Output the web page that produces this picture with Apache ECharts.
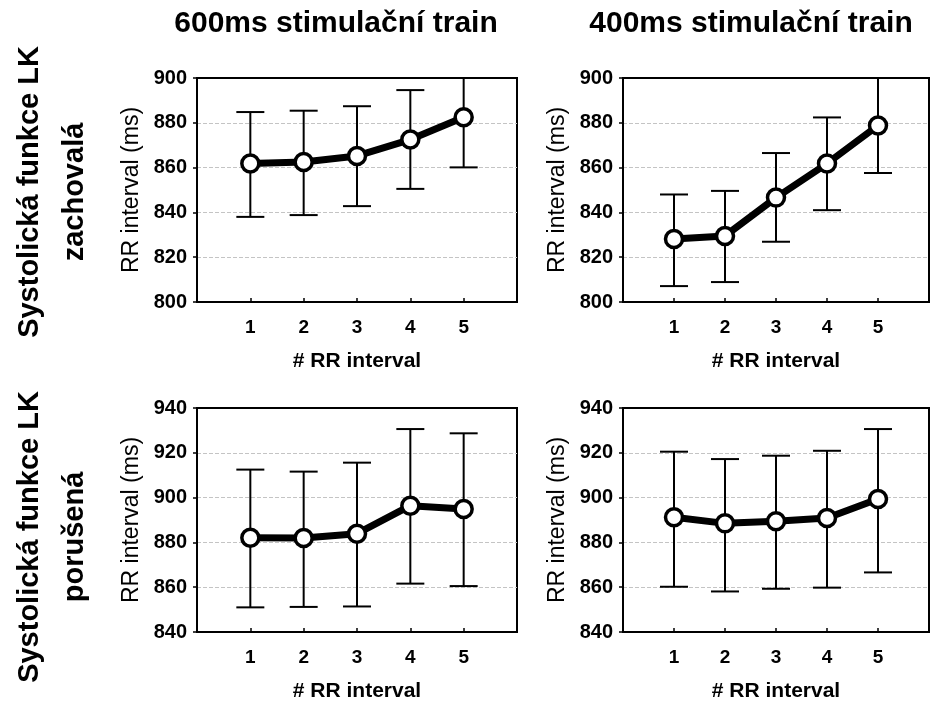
<!DOCTYPE html>
<html>
<head>
<meta charset="utf-8">
<script src="https://cdn.jsdelivr.net/npm/echarts@6/dist/echarts.min.js"></script>
<style>
  html, body { margin: 0; padding: 0; background: #fff; }
  #chart { width: 932px; height: 703px; }
</style>
</head>
<body>
<div id="chart"></div>
<script>
// RR interval number (x axis) and y-axis ticks
const rrIndex = [1, 2, 3, 4, 5];
const yTicksTop = [800, 820, 840, 860, 880, 900];
const yTicksBottom = [840, 860, 880, 900, 920, 940];

const colTitles = ['600ms stimulační train', '400ms stimulační train'];
const rowTitles = [['Systolická funkce LK', 'zachovalá'], ['Systolická funkce LK', 'porušená']];

// Preserved systolic function, 600 ms train
const pres600Mean  = [861.8, 862.5, 865.2, 872.5, 882.5];
const pres600Low   = [838.0, 838.8, 842.8, 850.5, 860.1];
const pres600High  = [884.8, 885.4, 887.4, 894.6, 905.0];
// Preserved systolic function, 400 ms train
const pres400Mean  = [828.1, 829.5, 846.6, 861.8, 878.8];
const pres400Low   = [807.1, 808.9, 826.9, 841.0, 857.6];
const pres400High  = [848.0, 849.6, 866.5, 882.4, 900.8];
// Impaired systolic function, 600 ms train
const imp600Mean   = [882.1, 882.0, 883.9, 896.4, 894.9];
const imp600Low    = [851.0, 851.2, 851.4, 861.6, 860.5];
const imp600High   = [912.5, 911.6, 915.6, 930.6, 928.7];
// Impaired systolic function, 400 ms train
const imp400Mean   = [891.2, 888.5, 889.4, 890.9, 899.4];
const imp400Low    = [860.2, 858.1, 859.3, 859.8, 866.6];
const imp400High   = [920.5, 917.2, 918.7, 920.9, 930.6];

const FONT = "'Liberation Sans', Arial, sans-serif";

const panels = [
  { mean: pres600Mean, low: pres600Low, high: pres600High, ticks: yTicksTop,    grid: { left: 197, top: 78,  width: 320, height: 224 } },
  { mean: pres400Mean, low: pres400Low, high: pres400High, ticks: yTicksTop,    grid: { left: 623, top: 78,  width: 320, height: 224 } },
  { mean: imp600Mean,  low: imp600Low,  high: imp600High,  ticks: yTicksBottom, grid: { left: 197, top: 408, width: 320, height: 224 } },
  { mean: imp400Mean,  low: imp400Low,  high: imp400High,  ticks: yTicksBottom, grid: { left: 623, top: 408, width: 320, height: 224 } }
];

const grids = [], xAxes = [], yAxes = [], series = [];

panels.forEach((p, i) => {
  grids.push(Object.assign({ show: true, borderColor: '#000', borderWidth: 2, backgroundColor: '#fff' }, p.grid));
  xAxes.push({
    gridIndex: i, type: 'value', min: 0, max: 6, interval: 1,
    name: '# RR interval', nameLocation: 'middle', nameGap: 49,
    nameTextStyle: { fontFamily: FONT, fontWeight: 'bold', fontSize: 21, color: '#000' },
    axisLine: { lineStyle: { color: '#000', width: 2 } },
    axisTick: { inside: true, length: 4, lineStyle: { color: '#000', width: 1.5 } },
    axisLabel: {
      margin: 16, fontFamily: FONT, fontWeight: 'bold', fontSize: 19, color: '#000',
      formatter: v => rrIndex.includes(v) ? String(v) : ''
    },
    splitLine: { show: false }
  });
  const tk = p.ticks;
  yAxes.push({
    gridIndex: i, type: 'value', min: tk[0], max: tk[tk.length - 1], interval: tk[1] - tk[0],
    name: 'RR interval (ms)', nameLocation: 'middle', nameGap: 54, nameRotate: 90,
    nameTextStyle: { fontFamily: FONT, fontSize: 23, color: '#000' },
    axisLine: { show: true, lineStyle: { color: '#000', width: 2 } },
    axisTick: { show: true, length: 4, lineStyle: { color: '#000', width: 1.5 } },
    axisLabel: { margin: 10, fontFamily: FONT, fontWeight: 'bold', fontSize: 20, color: '#000' },
    splitLine: { show: true, showMinLine: false, showMaxLine: false, lineStyle: { color: '#c4c4c4', type: 'dashed', width: 1 } }
  });

  // error bars (mean ± interval), clipped to the plot box
  series.push({
    type: 'custom', xAxisIndex: i, yAxisIndex: i, z: 2,
    data: rrIndex.map((x, k) => [x, p.low[k], p.high[k]]),
    renderItem: (params, api) => {
      const cs = params.coordSys;
      const top = cs.y, bottom = cs.y + cs.height;
      const lo = api.coord([api.value(0), api.value(1)]);
      const hi = api.coord([api.value(0), api.value(2)]);
      const x = lo[0];
      const y1 = Math.min(Math.max(hi[1], top), bottom);
      const y2 = Math.min(Math.max(lo[1], top), bottom);
      const half = 14;
      const style = { stroke: '#000', lineWidth: 2 };
      const children = [{ type: 'line', shape: { x1: x, y1: y1, x2: x, y2: y2 }, style }];
      if (hi[1] >= top) children.push({ type: 'line', shape: { x1: x - half, y1: hi[1], x2: x + half, y2: hi[1] }, style });
      if (lo[1] <= bottom) children.push({ type: 'line', shape: { x1: x - half, y1: lo[1], x2: x + half, y2: lo[1] }, style });
      return { type: 'group', children };
    }
  });

  // mean line with open circle markers
  series.push({
    type: 'line', xAxisIndex: i, yAxisIndex: i, z: 3,
    data: rrIndex.map((x, k) => [x, p.mean[k]]),
    lineStyle: { color: '#000', width: 7 },
    symbol: 'circle', symbolSize: 17,
    itemStyle: { color: '#fff', borderColor: '#000', borderWidth: 3.5 },
    emphasis: { disabled: true },
    animation: false
  });
});

const graphics = [];
const colCenters = [336, 751];
colTitles.forEach((t, i) => graphics.push({
  type: 'text', x: colCenters[i], y: 24,
  style: { text: t, font: "bold 30px " + FONT, fill: '#000', textAlign: 'center', textVerticalAlign: 'middle' }
}));
const rowCenters = [192, 537];
rowTitles.forEach((lines, r) => {
  lines.forEach((t, j) => graphics.push({
    type: 'text', x: j === 0 ? 30 : 75, y: rowCenters[r], rotation: Math.PI / 2,
    style: { text: t, font: "bold 29px " + FONT, fill: '#000', textAlign: 'center', textVerticalAlign: 'middle' }
  }));
});

const chart = echarts.init(document.getElementById('chart'), null, { renderer: 'canvas' });
chart.setOption({
  backgroundColor: '#fff',
  animation: false,
  grid: grids,
  xAxis: xAxes,
  yAxis: yAxes,
  series: series,
  graphic: graphics
});
</script>
</body>
</html>
